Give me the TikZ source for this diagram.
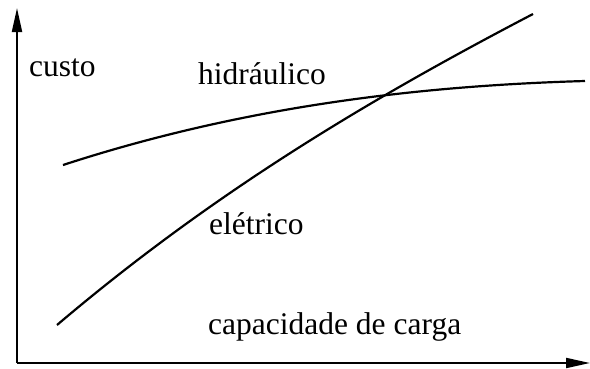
\documentclass[tikz,border=0pt]{standalone}
\usepackage{fontspec}
\setmainfont{Liberation Serif}
\usetikzlibrary{arrows.meta}
\begin{document}
\begin{tikzpicture}[x=1pt,y=-1pt,
  axis/.style={line width=2pt,-{Triangle[length=24pt,width=10pt]}},
  curve/.style={line width=2.2pt},
  lbl/.style={anchor=base west,inner sep=0pt,font=\fontsize{31.5}{38}\selectfont}]
\useasboundingbox (0,0) rectangle (590,368);
\coordinate (o) at (17,363);
\coordinate (ytop) at (17,8);
\coordinate (xend) at (590,363);
\draw[axis] (o) -- (ytop);
\draw[axis] (o) -- (xend);
\coordinate (h0) at (63,165);
\coordinate (h1) at (585,81);
\draw[curve] (h0) .. controls (238,108) and (411,86) .. (h1);
\coordinate (e0) at (57,325);
\coordinate (e1) at (533,14);
\draw[curve] (e0) .. controls (216,190) and (374,97) .. (e1);
\node[lbl] (custo) at (29,76) {custo};
\node[lbl] (hid) at (198,84) {hidráulico};
\node[lbl] (ele) at (209,234) {elétrico};
\node[lbl] (cap) at (208,334) {capacidade de carga};
\end{tikzpicture}
\end{document}
